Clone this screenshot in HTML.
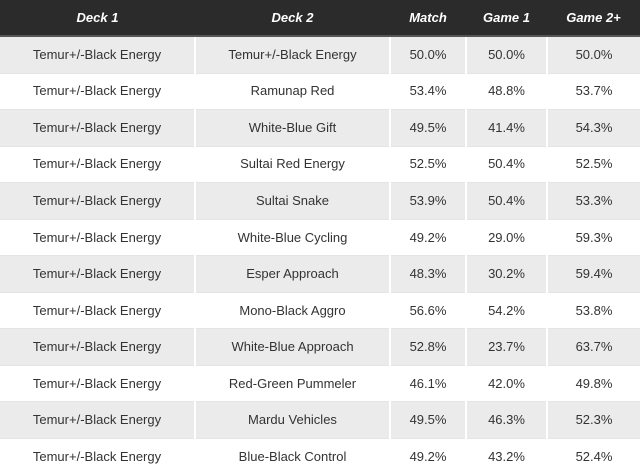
<!DOCTYPE html>
<html><head><meta charset="utf-8"><style>
body{margin:0;width:640px;height:476px;overflow:hidden;background:#fff;font-family:"Liberation Sans",sans-serif;}
table{border-collapse:collapse;table-layout:fixed;width:640px;}
th{background:#2b2b2b;color:#fff;font-weight:bold;font-style:italic;font-size:13px;height:35px;padding:0;border-bottom:2px solid #555;box-sizing:content-box;}
td{height:35.55px;padding:0;text-align:center;font-size:13px;color:#333;border-left:2px solid #fff;border-top:1px solid #e4e4e4;line-height:14px;}
td:first-child{border-left:none;}
tr.g td{background:#ebebeb;}
</style></head><body>
<table>
<colgroup><col style="width:195px"><col style="width:195px"><col style="width:76px"><col style="width:81px"><col style="width:93px"></colgroup>
<thead><tr><th>Deck 1</th><th>Deck 2</th><th>Match</th><th>Game 1</th><th>Game 2+</th></tr></thead>
<tbody>
<tr class="g"><td>Temur+/-Black Energy</td><td>Temur+/-Black Energy</td><td>50.0%</td><td>50.0%</td><td>50.0%</td></tr>
<tr><td>Temur+/-Black Energy</td><td>Ramunap Red</td><td>53.4%</td><td>48.8%</td><td>53.7%</td></tr>
<tr class="g"><td>Temur+/-Black Energy</td><td>White-Blue Gift</td><td>49.5%</td><td>41.4%</td><td>54.3%</td></tr>
<tr><td>Temur+/-Black Energy</td><td>Sultai Red Energy</td><td>52.5%</td><td>50.4%</td><td>52.5%</td></tr>
<tr class="g"><td>Temur+/-Black Energy</td><td>Sultai Snake</td><td>53.9%</td><td>50.4%</td><td>53.3%</td></tr>
<tr><td>Temur+/-Black Energy</td><td>White-Blue Cycling</td><td>49.2%</td><td>29.0%</td><td>59.3%</td></tr>
<tr class="g"><td>Temur+/-Black Energy</td><td>Esper Approach</td><td>48.3%</td><td>30.2%</td><td>59.4%</td></tr>
<tr><td>Temur+/-Black Energy</td><td>Mono-Black Aggro</td><td>56.6%</td><td>54.2%</td><td>53.8%</td></tr>
<tr class="g"><td>Temur+/-Black Energy</td><td>White-Blue Approach</td><td>52.8%</td><td>23.7%</td><td>63.7%</td></tr>
<tr><td>Temur+/-Black Energy</td><td>Red-Green Pummeler</td><td>46.1%</td><td>42.0%</td><td>49.8%</td></tr>
<tr class="g"><td>Temur+/-Black Energy</td><td>Mardu Vehicles</td><td>49.5%</td><td>46.3%</td><td>52.3%</td></tr>
<tr><td>Temur+/-Black Energy</td><td>Blue-Black Control</td><td>49.2%</td><td>43.2%</td><td>52.4%</td></tr>
</tbody></table>
</body></html>
